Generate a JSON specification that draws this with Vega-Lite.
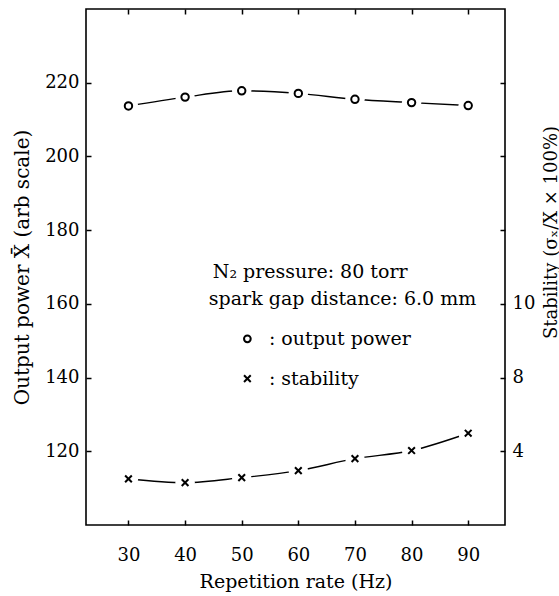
{
  "$schema": "https://vega.github.io/schema/vega-lite/v6.json",
  "width": 419,
  "height": 516,
  "autosize": {"type": "none"},
  "padding": {"left": 86, "top": 9, "right": 54, "bottom": 71},
  "background": "white",
  "config": {
    "view": {"stroke": "black", "strokeWidth": 1.6},
    "font": "DejaVu Serif",
    "axis": {
      "grid": false,
      "domain": false,
      "labelFont": "DejaVu Serif",
      "titleFont": "DejaVu Serif",
      "labelColor": "black",
      "titleColor": "black",
      "tickColor": "black",
      "labelFontSize": 18,
      "titleFontSize": 19,
      "titleFontWeight": "normal",
      "tickSize": -5,
      "tickWidth": 1.5
    }
  },
  "datasets": {
    "power": [
      {"rate": 30, "power": 213.7},
      {"rate": 40, "power": 216.1},
      {"rate": 50, "power": 217.8},
      {"rate": 60, "power": 217.1},
      {"rate": 70, "power": 215.5},
      {"rate": 80, "power": 214.6},
      {"rate": 90, "power": 213.8}
    ],
    "stab": [
      {"rate": 30, "stability": 2.5},
      {"rate": 40, "stability": 2.3},
      {"rate": 50, "stability": 2.57},
      {"rate": 60, "stability": 2.95},
      {"rate": 70, "stability": 3.6},
      {"rate": 80, "stability": 4.04},
      {"rate": 90, "stability": 4.98}
    ],
    "notes": [
      {"xpos": 44.9, "ypos": 168.7, "label": "N₂ pressure: 80 torr"},
      {"xpos": 44.2, "ypos": 161.4, "label": "spark gap distance: 6.0 mm"},
      {"xpos": 54.8, "ypos": 150.5, "label": ": output power"},
      {"xpos": 54.8, "ypos": 139.7, "label": ": stability"}
    ],
    "legend": [
      {"xpos": 51.0, "ypos": 150.5, "symbol": "circle"},
      {"xpos": 51.0, "ypos": 139.7, "symbol": "cross"}
    ]
  },
  "layer": [
    {
      "data": {"name": "power"},
      "encoding": {
        "x": {
          "field": "rate",
          "type": "quantitative",
          "scale": {"domain": [22.5, 96.5], "nice": false, "zero": false},
          "axis": {"orient": "bottom", "values": [30, 40, 50, 60, 70, 80, 90], "title": "Repetition rate (Hz)", "labelPadding": 26, "titlePadding": 8}
        },
        "y": {
          "field": "power",
          "type": "quantitative",
          "scale": {"domain": [100, 240], "nice": false, "zero": false},
          "axis": {"orient": "left", "values": [120, 140, 160, 180, 200, 220], "title": "Output power X̄ (arb scale)", "titleFontSize": 20, "labelPadding": 12, "titlePadding": 12}
        }
      },
      "layer": [
        {"mark": {"type": "line", "interpolate": "monotone", "color": "black", "strokeWidth": 1.4}},
        {"mark": {"type": "point", "shape": "circle", "filled": true, "color": "white", "size": 380, "opacity": 1}},
        {"mark": {"type": "point", "shape": "circle", "filled": false, "color": "black", "size": 55, "strokeWidth": 2, "opacity": 1}}
      ]
    },
    {
      "data": {"name": "stab"},
      "encoding": {
        "x": {
          "field": "rate",
          "type": "quantitative",
          "scale": {"domain": [22.5, 96.5], "nice": false, "zero": false},
          "axis": {"orient": "top", "values": [30, 40, 50, 60, 70, 80, 90], "labels": false, "title": null}
        },
        "y": {
          "field": "stability",
          "type": "quantitative",
          "scale": {"domain": [0, 28], "nice": false, "zero": false},
          "axis": {
            "orient": "right",
            "values": [4, 8, 12, 16, 20, 24],
            "labelExpr": "datum.value == 4 ? '4' : datum.value == 8 ? '8' : datum.value == 12 ? '10' : ''",
            "labelPadding": 12,
            "title": "Stability (σₓ/X × 100%)",
            "titleFontSize": 18,
            "titleAngle": 270,
            "titleAlign": "center",
            "titleBaseline": "alphabetic",
            "titleX": 51,
            "titleY": 223
          }
        }
      },
      "layer": [
        {"mark": {"type": "line", "interpolate": "monotone", "color": "black", "strokeWidth": 1.4}},
        {"mark": {"type": "point", "shape": "circle", "filled": true, "color": "white", "size": 380, "opacity": 1}},
        {"mark": {"type": "point", "shape": "M-1,-1L1,1M1,-1L-1,1", "filled": false, "color": "black", "size": 45, "strokeWidth": 2, "opacity": 1}}
      ]
    },
    {
      "encoding": {
        "x": {"field": "xpos", "type": "quantitative", "axis": null},
        "y": {"field": "ypos", "type": "quantitative", "scale": {"domain": [100, 240], "nice": false, "zero": false}, "axis": null}
      },
      "layer": [
        {
          "data": {"name": "notes"},
          "mark": {"type": "text", "align": "left", "baseline": "middle", "fontSize": 19, "color": "black", "font": "DejaVu Serif"},
          "encoding": {"text": {"field": "label"}}
        },
        {
          "data": {"name": "legend"},
          "mark": {"type": "point", "filled": false, "color": "black", "size": 45, "strokeWidth": 2, "opacity": 1},
          "encoding": {
            "shape": {"field": "symbol", "type": "nominal", "scale": {"domain": ["circle", "cross"], "range": ["circle", "M-1,-1L1,1M1,-1L-1,1"]}, "legend": null}
          }
        }
      ]
    }
  ],
  "resolve": {"scale": {"y": "independent"}, "axis": {"x": "independent"}}
}
